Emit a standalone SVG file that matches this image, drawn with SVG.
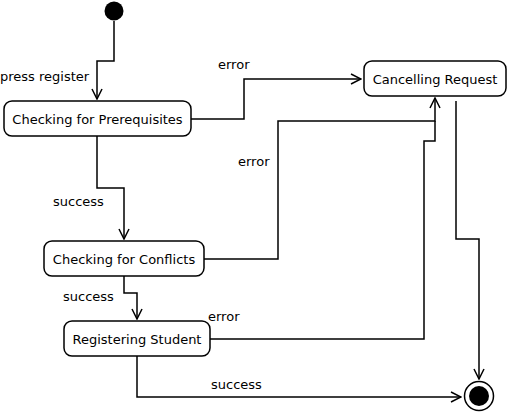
<svg xmlns="http://www.w3.org/2000/svg" width="507" height="419" viewBox="0 0 507 419">
<style>
.node{fill:#fff;stroke:#000;stroke-width:1.5}
.edge{fill:none;stroke:#000;stroke-width:1.5;marker-end:url(#arr)}
.plain{fill:none;stroke:#000;stroke-width:1.5}
text{font-family:"DejaVu Sans",sans-serif;font-size:13px;fill:#000}
.ntext{text-anchor:middle}
</style>
<defs>
<marker id="arr" viewBox="0 0 12 12" refX="11" refY="6" markerWidth="12" markerHeight="12" markerUnits="userSpaceOnUse" orient="auto">
<path d="M1,1 L11,6 L1,11" fill="none" stroke="#000" stroke-width="1.5"/>
</marker>
</defs>
<rect width="507" height="419" fill="#fff"/>
<g id="connectors">
<path class="edge" d="M114,21 V61 H97 V99"/>
<path class="edge" d="M191,119 H244 V79 H361"/>
<path class="edge" d="M97,136 V188 H124 V239"/>
<path class="edge" d="M204,259 H278 V121 H435 V98"/>
<path class="edge" d="M124,276 V293 H137 V319"/>
<path class="plain" d="M210,339 H424 V141 H435 V121"/>
<path class="edge" d="M137,356 V397 H461"/>
<path class="edge" d="M456,101 V239 H479 V379"/>
<text x="0" y="81">press register</text>
<text x="218" y="69">error</text>
<text x="53" y="206">success</text>
<text x="238" y="166">error</text>
<text x="63" y="301">success</text>
<text x="208" y="321">error</text>
<text x="211" y="389">success</text>
</g>
<g id="start"><circle cx="114" cy="11" r="9.5" fill="#000"/></g>
<g id="prereq"><rect class="node" x="4" y="101" width="187" height="35" rx="8"/><text class="ntext" x="97.5" y="124">Checking for Prerequisites</text></g>
<g id="cancel"><rect class="node" x="364" y="61" width="142" height="35" rx="8"/><text class="ntext" x="435" y="84">Cancelling Request</text></g>
<g id="conflicts"><rect class="node" x="44" y="241" width="160" height="35" rx="8"/><text class="ntext" x="124" y="264">Checking for Conflicts</text></g>
<g id="register"><rect class="node" x="64" y="321" width="146" height="35" rx="8"/><text class="ntext" x="137" y="344">Registering Student</text></g>
<g id="end"><circle cx="479" cy="396" r="14.5" fill="#fff" stroke="#000" stroke-width="1.5"/><circle cx="479" cy="396" r="10" fill="#000"/></g>
</svg>
